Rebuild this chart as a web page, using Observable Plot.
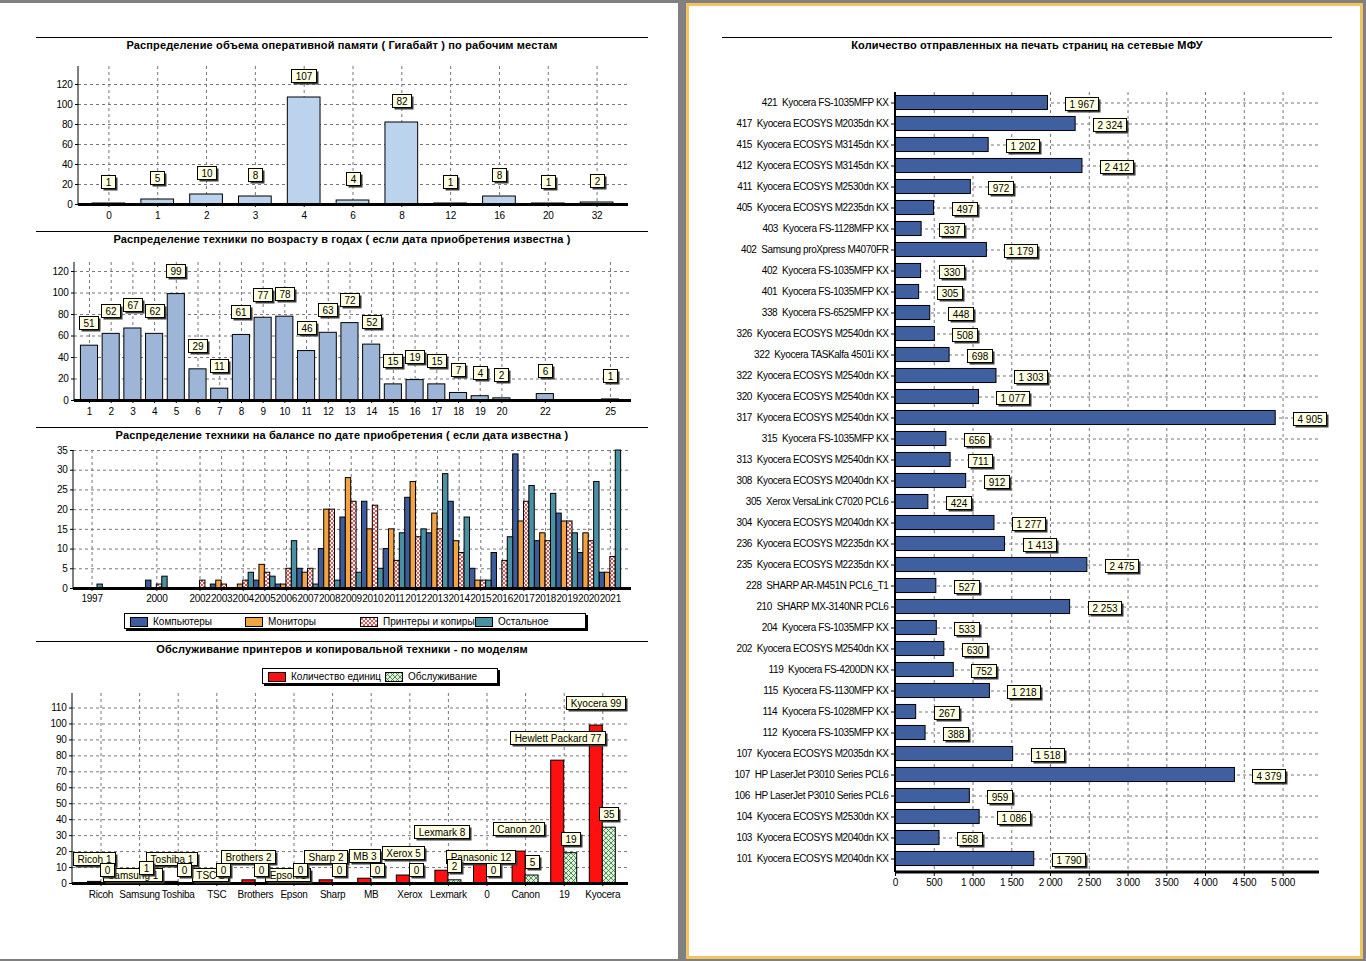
<!DOCTYPE html>
<html lang="ru">
<head>
<meta charset="utf-8">
<title>Отчет</title>
<script src="https://cdn.jsdelivr.net/npm/d3@7"></script>
<script src="https://cdn.jsdelivr.net/npm/@observablehq/plot@0.6"></script>
<style>
html,body{margin:0;padding:0;}
body{width:1366px;height:961px;background:#808080;position:relative;overflow:hidden;font-family:"Liberation Sans",Arial,sans-serif;color:#000;}
.page{position:absolute;background:#fff;box-sizing:border-box;}
.hline{position:absolute;height:1px;background:#000;}
.title{position:absolute;font-weight:bold;font-size:11px;line-height:13px;letter-spacing:0.15px;text-align:center;white-space:nowrap;}
.chart{position:absolute;}
.chart svg{display:block;overflow:visible;}
.chart [aria-label$="tick label"] text{letter-spacing:-0.25px;}
.mfp [aria-label="y-axis tick label"] text{letter-spacing:-0.4px;}
.legend{position:absolute;box-sizing:border-box;border:1px solid #000;background:#fff;box-shadow:2px 2px 0 #000;font-size:10px;}
.legend .item{position:absolute;top:2px;height:11px;display:flex;align-items:center;white-space:nowrap;}
.legend .item svg{margin-right:5px;display:block;}
</style>
</head>
<body>
<svg width="0" height="0" style="position:absolute;left:0;top:0">
  <defs>
    <pattern id="hatchRed" patternUnits="userSpaceOnUse" width="4" height="4">
      <rect width="4" height="4" fill="#fff4f4"/>
      <path d="M0,0L4,4M4,0L0,4" stroke="#d04848" stroke-width="0.9"/>
    </pattern>
    <pattern id="hatchGreen" patternUnits="userSpaceOnUse" width="5" height="5">
      <rect width="5" height="5" fill="#dff0df"/>
      <path d="M0,0L5,5M5,0L0,5" stroke="#2f7a2f" stroke-width="0.8"/>
    </pattern>
  </defs>
</svg>
<div class="page" style="left:0;top:3px;width:678px;height:956px"></div>
<div class="page" style="left:686px;top:3px;width:677px;height:956px;border:3px solid #f1c461"></div>
<script>
// ------------------------------------------------------------ data
const ramCategories = ["0","1","2","3","4","6","8","12","16","20","32"];
const ramCounts = [1,5,10,8,107,4,82,1,8,1,2];

const ageYears = [1,2,3,4,5,6,7,8,9,10,11,12,13,14,15,16,17,18,19,20,22,25];
const ageCounts = [51,62,67,62,99,29,11,61,77,78,46,63,72,52,15,19,15,7,4,2,6,1];

const purchaseYears = [1997,2000,2002,2003,2004,2005,2006,2007,2008,2009,2010,2011,2012,2013,2014,2015,2016,2017,2018,2019,2020,2021];
const purchaseSeries = ["Компьютеры","Мониторы","Принтеры и копиры","Остальное"];
const computersByYear = [0,2,0,1,0,2,1,5,10,18,22,10,23,14,22,5,9,34,12,19,9,4];
const monitorsByYear  = [0,0,0,2,1,6,1,4,20,28,15,15,27,19,12,2,0,17,14,17,14,4];
const printersByYear  = [0,1,2,1,2,4,5,5,20,22,21,7,13,15,9,2,7,22,12,17,12,8];
const otherByYear     = [1,3,0,0,4,3,12,1,2,4,5,14,15,29,18,2,13,26,24,14,27,35];

const brandNames = ["Ricoh","Samsung","Toshiba","TSC","Brothers","Epson","Sharp","MB","Xerox","Lexmark","Panasonic","Canon","Hewlett Packard","Kyocera"];
const brandTickLabels = ["Ricoh","Samsung","Toshiba","TSC","Brothers","Epson","Sharp","MB","Xerox","Lexmark","0","Canon","19","Kyocera"];
const printerSeries = ["Количество единиц","Обслуживание"];
const unitCounts = [1,1,1,1,2,1,2,3,5,8,12,20,77,99];
const serviceCounts = [0,1,0,0,0,0,0,0,0,2,0,5,19,35];

const mfpNames = [
  "421  Kyocera FS-1035MFP KX","417  Kyocera ECOSYS M2035dn KX","415  Kyocera ECOSYS M3145dn KX",
  "412  Kyocera ECOSYS M3145dn KX","411  Kyocera ECOSYS M2530dn KX","405  Kyocera ECOSYS M2235dn KX",
  "403  Kyocera FS-1128MFP KX","402  Samsung proXpress M4070FR","402  Kyocera FS-1035MFP KX",
  "401  Kyocera FS-1035MFP KX","338  Kyocera FS-6525MFP KX","326  Kyocera ECOSYS M2540dn KX",
  "322  Kyocera TASKalfa 4501i KX","322  Kyocera ECOSYS M2540dn KX","320  Kyocera ECOSYS M2540dn KX",
  "317  Kyocera ECOSYS M2540dn KX","315  Kyocera FS-1035MFP KX","313  Kyocera ECOSYS M2540dn KX",
  "308  Kyocera ECOSYS M2040dn KX","305  Xerox VersaLink C7020 PCL6","304  Kyocera ECOSYS M2040dn KX",
  "236  Kyocera ECOSYS M2235dn KX","235  Kyocera ECOSYS M2235dn KX","228  SHARP AR-M451N PCL6_T1",
  "210  SHARP MX-3140NR PCL6","204  Kyocera FS-1035MFP KX","202  Kyocera ECOSYS M2540dn KX",
  "119  Kyocera FS-4200DN KX","115  Kyocera FS-1130MFP KX","114  Kyocera FS-1028MFP KX",
  "112  Kyocera FS-1035MFP KX","107  Kyocera ECOSYS M2035dn KX","107  HP LaserJet P3010 Series PCL6",
  "106  HP LaserJet P3010 Series PCL6","104  Kyocera ECOSYS M2530dn KX","103  Kyocera ECOSYS M2040dn KX",
  "101  Kyocera ECOSYS M2040dn KX"
];
const mfpPages = [1967,2324,1202,2412,972,497,337,1179,330,305,448,508,698,1303,1077,4905,656,711,912,424,1277,1413,2475,527,2253,533,630,752,1218,267,388,1518,4379,959,1086,568,1790];

// ------------------------------------------------------------ styles & helpers
const FONT = "'Liberation Sans', Arial, sans-serif";
const STYLE = {fontFamily: FONT, fontSize: "10px", background: "transparent", color: "#000", overflow: "visible"};
const DASH = {stroke: "#777", strokeOpacity: 1, strokeDasharray: "3,3", strokeWidth: 1};
const COLORS = {
  ram: "#bcd3ee", age: "#9db5d6",
  series: ["#3c5c9c", "#f2a443", "url(#hatchRed)", "#4a91a4"],
  units: "#ff1010", service: "url(#hatchGreen)", mfp: "#3f5f9f"
};
const fmtRu = d3.formatLocale({decimal: ",", thousands: " ", grouping: [3], currency: ["", ""]}).format(",d");

const SVGNS = "http://www.w3.org/2000/svg";
function el(tag, attrs = {}) {
  const e = document.createElementNS(SVGNS, tag);
  for (const k in attrs) e.setAttribute(k, attrs[k]);
  return e;
}
const mctx = document.createElement("canvas").getContext("2d");
function measure(s) { mctx.font = "10px " + FONT; return mctx.measureText(s).width; }
function bandCenter(scale, v) { return scale(v) + (scale.bandwidth ? scale.bandwidth() / 2 : 0); }

// axis line along a side of the frame
function frameLine(side, width = 1) {
  return (index, scales, values, d) => {
    const x0 = d.marginLeft, x1 = d.width - d.marginRight, y0 = d.marginTop, y1 = d.height - d.marginBottom;
    const a = side === "left" ? {x1: x0, x2: x0, y1: y0, y2: y1} : {x1: x0, x2: x1, y1: y1, y2: y1};
    return el("line", {...a, stroke: "#000", "stroke-width": width});
  };
}

// boxed value labels positioned through the plot's scales (with optional overlap avoidance)
function labelBoxes(items, {avoid = false, reverse = false, step = 16, gap = 1, h = 13, pad = 4} = {}) {
  return (index, scales) => {
    const g = el("g", {"aria-label": "value labels", "font-size": 10});
    const placed = [];
    const list = reverse ? items.slice().reverse() : items;
    for (const it of list) {
      const w = Math.round(measure(it.text) + 2 * pad);
      const cx = it.x(scales), cy = it.y(scales);
      const x0 = it.anchor === "start" ? cx : cx - w / 2;
      const base = cy - h / 2;
      let y0 = base;
      if (avoid) {
        const hit = (yy) => placed.some(b => x0 < b.x1 + gap && x0 + w > b.x0 - gap && yy < b.y1 + 1 && yy + h > b.y0 - 1);
        const tries = [0, step, -step, 2 * step, -2 * step];
        const ok = tries.find(t => !hit(base + t));
        y0 = base + (ok === undefined ? 0 : ok);
      }
      placed.push({x0, x1: x0 + w, y0, y1: y0 + h});
      const rx = Math.round(x0) + 0.5, ry = Math.round(y0) + 0.5;
      g.append(el("rect", {x: rx + 2, y: ry + 2, width: w, height: h, fill: "#3a3a3a"}));
      g.append(el("rect", {x: rx, y: ry, width: w, height: h, fill: "#ffffe1", stroke: "#000"}));
      const t = el("text", {x: rx + w / 2, y: ry + h / 2 + 0.5, "text-anchor": "middle", "dominant-baseline": "central", fill: "#000"});
      t.textContent = it.text;
      g.append(t);
    }
    return g;
  };
}

function place(svg, left, top, cls = "") {
  const d = document.createElement("div");
  d.className = "chart " + cls; d.style.left = left + "px"; d.style.top = top + "px";
  d.append(svg); document.body.append(d);
}
function header(x0, x1, lineY, text) {
  const l = document.createElement("div");
  l.className = "hline"; l.style.left = x0 + "px"; l.style.top = lineY + "px"; l.style.width = (x1 - x0) + "px";
  document.body.append(l);
  const t = document.createElement("div");
  t.className = "title"; t.style.left = x0 + "px"; t.style.width = (x1 - x0) + "px"; t.style.top = (lineY + 2) + "px";
  t.textContent = text;
  document.body.append(t);
}
function legend(left, top, width, items, spacing) {
  const box = document.createElement("div");
  box.className = "legend";
  Object.assign(box.style, {left: left + "px", top: top + "px", width: width + "px", height: "16px"});
  items.forEach(([name, fill], i) => {
    const it = document.createElement("div");
    it.className = "item"; it.style.left = (5 + i * spacing) + "px";
    const sw = el("svg", {width: 18, height: 10});
    sw.append(el("rect", {x: 0.5, y: 0.5, width: 17, height: 9, fill, stroke: "#000"}));
    it.append(sw);
    const s = document.createElement("span"); s.textContent = name; it.append(s);
    box.append(it);
  });
  document.body.append(box);
}

// ------------------------------------------------------------ chart 1: RAM
{
  const data = ramCategories.map((c, i) => ({c, v: ramCounts[i]}));
  const svg = Plot.plot({
    width: 612, height: 175, marginLeft: 42, marginRight: 20, marginTop: 10, marginBottom: 27,
    style: STYLE,
    x: {type: "band", domain: ramCategories, range: [48, 585], paddingInner: 0.33, paddingOuter: 0.165, round: false, label: null},
    y: {domain: [0, 138], label: null},
    marks: [
      Plot.gridY({ticks: d3.range(20, 121, 20), ...DASH}),
      Plot.gridX({...DASH}),
      Plot.barY(data, {x: "c", y: "v", fill: COLORS.ram, stroke: "#000", strokeWidth: 1}),
      frameLine("left"),
      Plot.ruleY([0], {strokeWidth: 3}),
      Plot.axisY({ticks: d3.range(0, 121, 20), tickSize: 3, tickPadding: 3, label: null}),
      Plot.axisX({tickSize: 3, tickPadding: 4, label: null}),
      labelBoxes(data.map(d => ({text: String(d.v), x: s => bandCenter(s.x, d.c), y: s => s.y(d.v) - 22})))
    ]
  });
  place(svg, 36, 56);
  header(36, 648, 37, "Распределение объема оперативной памяти ( Гигабайт ) по рабочим местам");
}

// ------------------------------------------------------------ chart 2: age
{
  const data = ageYears.map((a, i) => ({a, v: ageCounts[i]}));
  const svg = Plot.plot({
    width: 612, height: 173, marginLeft: 38, marginRight: 17, marginTop: 10, marginBottom: 25,
    style: STYLE,
    x: {domain: [0.31, 25.97], label: null},
    y: {domain: [0, 128.4], label: null},
    marks: [
      Plot.gridY({ticks: d3.range(20, 121, 20), ...DASH}),
      Plot.gridX({ticks: ageYears, ...DASH}),
      Plot.rectY(data, {x1: d => d.a - 0.5, x2: d => d.a + 0.5, y: "v", insetLeft: 2.3, insetRight: 2.3, fill: COLORS.age, stroke: "#000"}),
      frameLine("left"),
      Plot.ruleY([0], {strokeWidth: 3}),
      Plot.axisY({ticks: d3.range(0, 121, 20), tickSize: 3, tickPadding: 3, label: null}),
      Plot.axisX({ticks: ageYears, tickFormat: d => String(d), tickSize: 3, tickPadding: 4, label: null}),
      labelBoxes(data.map(d => ({text: String(d.v), x: s => s.x(d.a), y: s => s.y(d.v) - 23})))
    ]
  });
  place(svg, 36, 252);
  header(36, 648, 231, "Распределение техники по возрасту в годах ( если дата приобретения известна )");
}

// ------------------------------------------------------------ chart 3: purchase year
{
  const seriesValues = [computersByYear, monitorsByYear, printersByYear, otherByYear];
  const n = purchaseSeries.length;
  const svg = Plot.plot({
    width: 612, height: 167, marginLeft: 37, marginRight: 17, marginTop: 7, marginBottom: 22,
    style: STYLE,
    x: {domain: [1996.14, 2021.98], label: null},
    y: {domain: [0, 35], label: null},
    marks: [
      Plot.gridY({ticks: d3.range(5, 36, 5), ...DASH}),
      Plot.gridX({ticks: purchaseYears, ...DASH}),
      ...seriesValues.map((vals, k) => Plot.rectY(
        purchaseYears.map((year, i) => ({year, v: vals[i]})),
        {filter: d => d.v > 0, x1: d => d.year - 0.5 + k / n, x2: d => d.year - 0.5 + (k + 1) / n, y: "v",
         fill: COLORS.series[k], stroke: "#000", strokeWidth: 1})),
      frameLine("left"),
      Plot.ruleY([0], {strokeWidth: 3}),
      Plot.axisY({ticks: d3.range(0, 36, 5), tickSize: 3, tickPadding: 3, label: null}),
      Plot.axisX({ticks: purchaseYears, tickFormat: d => String(d), tickSize: 3, tickPadding: 3, label: null})
    ]
  });
  place(svg, 36, 443);
  header(36, 648, 427, "Распределение техники на балансе по дате приобретения ( если дата известна )");
  legend(124, 613, 462, purchaseSeries.map((s, k) => [s, COLORS.series[k]]), 115);
}

// ------------------------------------------------------------ chart 4: printers by brand
{
  const data = brandNames.map((b, i) => ({i, b, units: unitCounts[i], service: serviceCounts[i]}));
  const svg = Plot.plot({
    width: 612, height: 217, marginLeft: 36, marginRight: 20, marginTop: 5, marginBottom: 22,
    style: STYLE,
    x: {type: "band", domain: d3.range(brandNames.length), range: [45.2, 585.6], padding: 0, round: false, label: null},
    y: {domain: [0, 119.1], label: null},
    marks: [
      Plot.gridY({ticks: d3.range(10, 111, 10), ...DASH}),
      Plot.gridX({...DASH}),
      Plot.barY(data, {x: "i", y: "units", insetLeft: 6.3, insetRight: 19.3, fill: COLORS.units, stroke: "#000"}),
      Plot.barY(data, {x: "i", y: "service", insetLeft: 19.3, insetRight: 6.3, fill: COLORS.service, stroke: "#000"}),
      frameLine("left"),
      Plot.ruleY([0], {strokeWidth: 3}),
      Plot.axisY({ticks: d3.range(0, 111, 10), tickSize: 3, tickPadding: 3, label: null}),
      Plot.axisX({tickFormat: i => brandTickLabels[i], tickSize: 3, tickPadding: 4, label: null}),
      labelBoxes(data.map(d => ({text: `${d.b} ${d.units}`, x: s => bandCenter(s.x, d.i) - 6.5, y: s => s.y(d.units) - 23})),
                 {avoid: true, reverse: true, step: 16, gap: 1}),
      labelBoxes(data.map(d => ({text: String(d.service), x: s => bandCenter(s.x, d.i) + 6.5, y: s => s.y(d.service) - 14})))
    ]
  });
  place(svg, 36, 688);
  header(36, 648, 641, "Обслуживание принтеров и копировальной техники - по моделям");
  legend(262, 668, 236, printerSeries.map((s, k) => [s, k === 0 ? COLORS.units : COLORS.service]), 117);
}

// ------------------------------------------------------------ chart 5: pages per MFP
{
  const data = mfpNames.map((n, i) => ({n, v: mfpPages[i]}));
  const svg = Plot.plot({
    width: 610, height: 815, marginLeft: 173, marginRight: 13, marginTop: 7, marginBottom: 28,
    style: STYLE,
    x: {domain: [0, 5470], label: null},
    y: {type: "band", domain: mfpNames, range: [7, 784], paddingInner: 0.33, paddingOuter: 0.165, round: false, label: null},
    marks: [
      Plot.gridX({ticks: d3.range(500, 5001, 500), ...DASH}),
      Plot.gridY({...DASH}),
      Plot.barX(data, {y: "n", x: "v", fill: COLORS.mfp, stroke: "#000"}),
      frameLine("left", 2),
      frameLine("bottom", 3),
      Plot.axisY({tickSize: 4, tickPadding: 3, label: null}),
      Plot.axisX({ticks: d3.range(0, 5001, 500), tickFormat: fmtRu, tickSize: 4, tickPadding: 2, label: null}),
      labelBoxes(data.map(d => ({text: fmtRu(d.v), anchor: "start", x: s => s.x(d.v) + 18, y: s => bandCenter(s.y, d.n) + 1})))
    ]
  });
  place(svg, 722, 85, "mfp");
  header(722, 1332, 37, "Количество отправленных на печать страниц на сетевые МФУ");
}
</script>
</body>
</html>
